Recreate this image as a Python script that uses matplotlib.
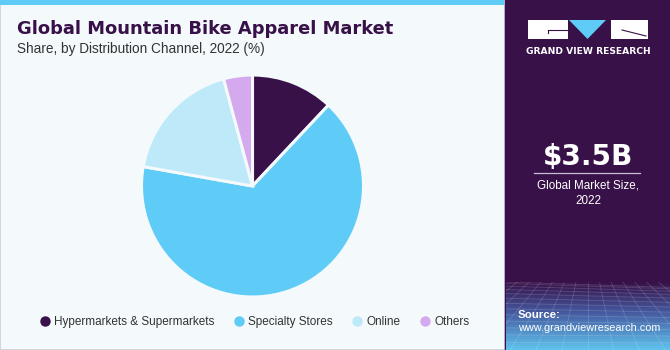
import matplotlib
matplotlib.use("Agg")
import matplotlib.pyplot as plt
import numpy as np
from matplotlib.patches import Rectangle, Polygon
from matplotlib.lines import Line2D

categories = ["Hypermarkets & Supermarkets", "Specialty Stores", "Online", "Others"]
shares = [12.0, 65.8, 18.0, 4.2]
colors = ["#371148", "#5ECCF6", "#BDE9F9", "#D5A9EE"]

title = "Global Mountain Bike Apparel Market"
subtitle = "Share, by Distribution Channel, 2022 (%)"
market_size = "$3.5B"
market_label = "Global Market Size,\n2022"

W, H = 670, 350
fig = plt.figure(figsize=(W / 100, H / 100), dpi=100)
fig.patch.set_facecolor("#F4F9FC")

def fx(px):
    return px / W

def fy(py):
    return 1 - py / H

# background panels
bg = fig.add_axes([0, 0, 1, 1])
bg.set_xlim(0, W)
bg.set_ylim(H, 0)
bg.axis("off")
bg.add_patch(Rectangle((0, 0), 505, 5, color="#5ECCF6", lw=0))
bg.add_patch(Rectangle((0, 5), 1.2, 345, color="#D0D6DC", lw=0))
bg.add_patch(Rectangle((0, 348.5), 505, 1.5, color="#D0D6DC", lw=0))
bg.add_patch(Rectangle((505, 0), 165, 350, color="#371148", lw=0))
bg.add_patch(Rectangle((504, 0), 1.3, 350, color="#B9A8C8", lw=0))

# gradient at the bottom of the right panel
grad_ax = fig.add_axes([fx(505.5), 0, fx(670) - fx(505.5), (350 - 282) / H])
grad_ax.axis("off")
n = 100
t = np.linspace(0, 1, n)[:, None]
top = np.array([0x37, 0x11, 0x48]) / 255
mid = np.array([0x45, 0x5a, 0xa0]) / 255
bot = np.array([0x5f, 0xc3, 0xee]) / 255
rgb = np.where(t[..., None] < 0.45,
               top + (mid - top) * (t[..., None] / 0.45),
               mid + (bot - mid) * ((t[..., None] - 0.45) / 0.55))
rgb = np.repeat(rgb, 2, axis=1)
grad_ax.imshow(rgb, aspect="auto", extent=[0, 1, 0, 1], origin="upper")
# faint grid texture
for k in range(14):
    yy = 1 - (k / 13) ** 1.5
    grad_ax.plot([0, 1], [yy, yy * 0.92], color="white", alpha=0.16, lw=0.6)
for k in range(-8, 22):
    x0 = k / 14
    grad_ax.plot([x0, 0.5 + (x0 - 0.5) * 2.2], [1, 0], color="white", alpha=0.16, lw=0.6)
grad_ax.set_xlim(0, 1)
grad_ax.set_ylim(0, 1)

# logo
bg.add_patch(Rectangle((528, 20), 40, 19, color="white", lw=0))
bg.add_patch(Rectangle((611, 20), 37, 19, color="white", lw=0))
bg.add_patch(Polygon([(569, 20), (606, 20), (587.5, 39)], closed=True, color="#5ECCF6", lw=0))
bg.plot([548, 568], [29.5, 29.5], color="#371148", lw=0.8)
bg.plot([548, 548], [29.5, 33], color="#371148", lw=0.8)
bg.plot([622, 646], [30, 36], color="#371148", lw=0.8)
fig.text(fx(588), fy(51), "GRAND VIEW RESEARCH", color="white", fontsize=6.6,
         fontweight="bold", ha="center", va="center", family="DejaVu Sans")

# market size
fig.text(fx(588), fy(157), market_size, color="white", fontsize=20.2, fontweight="bold",
         ha="center", va="center", family="DejaVu Sans")
bg.plot([534, 640], [173, 173], color="#C9BCD6", lw=0.9)
fig.text(fx(588), fy(193), market_label, color="white", fontsize=8.4,
         ha="center", va="center", linespacing=1.35, family="Liberation Sans")

fig.text(fx(518), fy(315), "Source:", color="white", fontsize=8.2, fontweight="bold",
         ha="left", va="center", family="Liberation Sans")
fig.text(fx(518), fy(328), "www.grandviewresearch.com", color="white", fontsize=7.8,
         ha="left", va="center", family="Liberation Sans")

# titles
fig.text(fx(17), fy(29), title, color="#371148", fontsize=12.9, fontweight="bold",
         ha="left", va="center", family="DejaVu Sans")
fig.text(fx(17), fy(49), subtitle, color="#333333", fontsize=9.8,
         ha="left", va="center", family="Liberation Sans")

# pie
cx, cy, r = 252.5, 186, 111
ax = fig.add_axes([fx(cx - r), fy(cy + r), 2 * r / W, 2 * r / H])
ax.pie(shares, colors=colors, startangle=90, counterclock=False, radius=1,
       wedgeprops=dict(edgecolor="#F4F9FC", linewidth=2.2))
ax.set_xlim(-1, 1)
ax.set_ylim(-1, 1)
ax.set_aspect("auto")
ax.axis("off")

# legend
handles = [Line2D([0], [0], marker="o", linestyle="", markersize=6.5,
                  markerfacecolor=c, markeredgecolor=c) for c in colors]
fig.legend(handles, categories, loc="center", bbox_to_anchor=(fx(254), fy(322)),
           ncol=4, frameon=False, handletextpad=0.3, columnspacing=1.55,
           prop=dict(family="Liberation Sans", size=8.5), labelcolor="#333333",
           handlelength=1.0)

fig.savefig("out.png", dpi=100, facecolor=fig.get_facecolor())
